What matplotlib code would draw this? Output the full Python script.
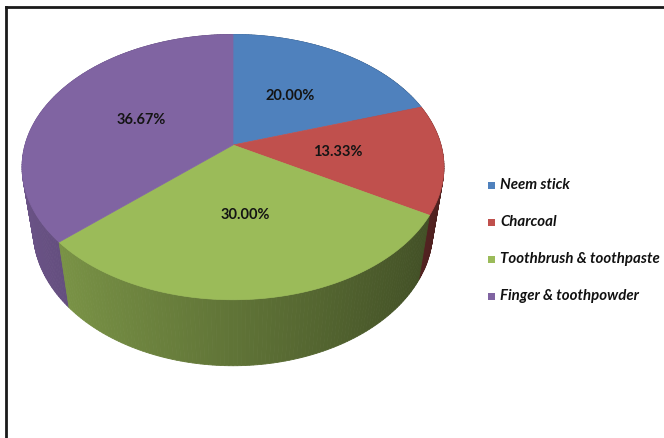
import numpy as np
import matplotlib
matplotlib.use("Agg")
import matplotlib.pyplot as plt
from matplotlib.patches import Polygon, Rectangle
from matplotlib.lines import Line2D
from matplotlib.colors import to_rgb

# Oral hygiene method shares
categories = ["Neem stick", "Charcoal", "Toothbrush & toothpaste", "Finger & toothpowder"]
shares = [20.00, 13.33, 30.00, 36.67]
value_labels = ["20.00%", "13.33%", "30.00%", "36.67%"]
colors = ["#4f81bd", "#c0504d", "#9bbb59", "#8064a2"]

W, H = 664, 438
fig = plt.figure(figsize=(W / 100, H / 100), dpi=100)
ax = fig.add_axes([0, 0, 1, 1])
ax.set_xlim(0, W)
ax.set_ylim(H, 0)
ax.axis("off")

# Perspective camera for the 3-D disc
sin_e = 0.62
cos_e = np.sqrt(1 - sin_e ** 2)
dist = 6 * cos_e
thick = 0.41
cx, cy, k = 233, 145, 208


def project(X, Y, z):
    yv = Y * sin_e + z * cos_e
    d = Y * cos_e - z * sin_e
    sc = dist / (dist + d)
    return cx + k * X * sc, cy - k * yv * sc, d


def rim(theta, r=1.0, z=0.0):
    t = np.radians(theta)
    return project(r * np.sin(t), r * np.cos(t), z)


total = sum(shares)
bounds = np.concatenate([[0], np.cumsum(shares) / total * 360.0])

# Side wall strips, painted back to front
strips = []
for i, c in enumerate(colors):
    a0, a1 = bounds[i], bounds[i + 1]
    n = max(int(np.ceil(a1 - a0)), 2)
    ts = np.linspace(a0, a1, n + 1)
    base = np.array(to_rgb(c))
    for t0, t1 in zip(ts[:-1], ts[1:]):
        p0 = rim(t0); p1 = rim(t1)
        q1 = rim(t1, z=-thick); q0 = rim(t0, z=-thick)
        xm = np.sin(np.radians((t0 + t1) / 2))
        f = 0.62 - 0.22 * xm
        shade = np.clip(base * f, 0, 1)
        depth = (p0[2] + p1[2] + q0[2] + q1[2]) / 4
        strips.append((depth, [(p0[0], p0[1]), (p1[0], p1[1]), (q1[0], q1[1]), (q0[0], q0[1])], shade))

strips.sort(key=lambda s: -s[0])
for _, pts, shade in strips:
    ax.add_patch(Polygon(pts, closed=True, facecolor=shade, edgecolor=shade, linewidth=0.6, zorder=1))

# Top face wedges
for i, c in enumerate(colors):
    ts = np.linspace(bounds[i], bounds[i + 1], 200)
    pts = [(cx, cy)] + [rim(t)[:2] for t in ts]
    ax.add_patch(Polygon(pts, closed=True, facecolor=c, edgecolor=c, linewidth=0.5, zorder=2))

# Percentage labels
for i, lab in enumerate(value_labels):
    mid = (bounds[i] + bounds[i + 1]) / 2
    x, y, _ = rim(mid, r=0.5)
    ax.text(x, y, lab, ha="center", va="center", fontsize=10.5, fontweight="bold",
            family=["Lato", "DejaVu Sans"], color="#141414", zorder=3)

# Legend
rows_y = [185, 222, 259, 296]
for c, name, yy in zip(colors, categories, rows_y):
    ax.add_patch(Rectangle((488, yy - 3.5), 7, 7, facecolor=c, edgecolor="none", zorder=3))
    ax.text(500, yy, name, ha="left", va="center", fontsize=10.8, fontweight="bold",
            fontstyle="italic", family=["Lato", "DejaVu Sans"], color="#111111", zorder=3)

# Chart frame
fig.add_artist(Line2D([6, W], [H - 7, H - 7], transform=None, color="#1a1a1a", linewidth=2))
fig.add_artist(Line2D([6, 6], [0, H - 7], transform=None, color="#1a1a1a", linewidth=2))

fig.savefig("out.png", dpi=100)
